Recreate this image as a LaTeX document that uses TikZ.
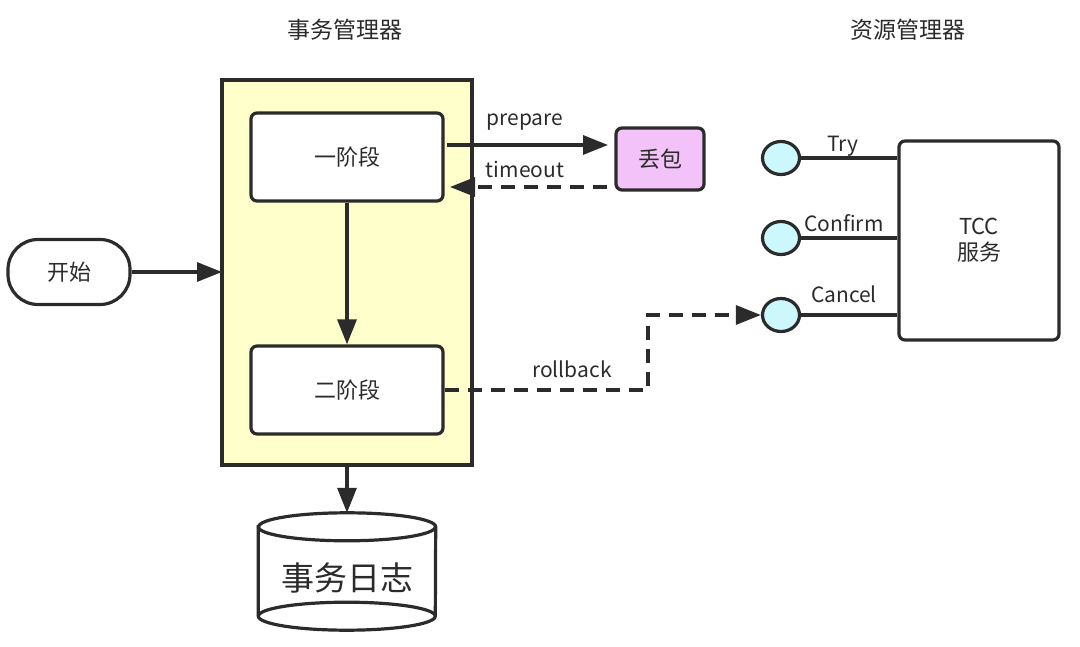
\documentclass[tikz,border=0pt]{standalone}
\usepackage{fontspec}
\setmainfont{Noto Sans CJK SC}
\usetikzlibrary{arrows.meta,shapes.geometric}
\definecolor{ln}{HTML}{2B2B2B}
\definecolor{yel}{HTML}{FFFFCC}
\definecolor{pink}{HTML}{F2C2F8}
\definecolor{cyanc}{HTML}{CCF8FC}
\tikzset{
  every node/.style={font=\fontsize{21}{24}\selectfont, text=ln},
  boxst/.style={draw=ln, line width=3.2pt, rounded corners=6pt, fill=white},
  conn/.style={draw=ln, line width=3.2pt, -{Triangle[length=25pt,width=19pt]}},
  dconn/.style={conn, dash pattern=on 14pt off 9pt},
  port/.style={draw=ln, line width=3.2pt, fill=cyanc, ellipse, minimum width=37pt, minimum height=33pt, inner sep=0pt},
  plain/.style={draw=ln, line width=3.2pt},
}
\begin{document}
\begin{tikzpicture}[x=1pt,y=-1pt]
\useasboundingbox (0,0) rectangle (1080,647);
% titles
\node[font=\fontsize{23}{26}\selectfont] (t1) at (345,30) {事务管理器};
\node[font=\fontsize{23}{26}\selectfont] (t2) at (908,30) {资源管理器};
% yellow container
\draw[draw=ln, line width=3.2pt, fill=yel] (222,80) rectangle (472,465);
\coordinate (ybot) at (347,465);
\coordinate (yleft) at (222,272);
% phase boxes
\node[boxst, minimum width=192pt, minimum height=88pt, font=\fontsize{22}{24}\selectfont] (p1) at (347,157) {一阶段};
\node[boxst, minimum width=192pt, minimum height=88pt, font=\fontsize{22}{24}\selectfont] (p2) at (347,390) {二阶段};
\draw[conn] (p1.south) -- (p2.north);
% start
\node[draw=ln, line width=3.2pt, rounded corners=30pt, minimum width=122pt, minimum height=65pt, fill=white, font=\fontsize{22}{24}\selectfont] (start) at (69,272) {开始};
\draw[conn] (start.east) -- (yleft);
% log cylinder
\node[minimum width=177pt, minimum height=117pt, inner sep=0pt] (log) at (347,571.5) {};
\draw[draw=ln, line width=3.2pt, fill=white]
  ([yshift=-14pt]log.north west) -- ([yshift=14pt]log.south west)
  arc (180:360:88.5pt and 14pt) -- ([yshift=-14pt]log.north east)
  arc (0:180:88.5pt and 14pt) -- cycle;
\draw[draw=ln, line width=3.2pt] ([yshift=-14pt]log.north west) arc (180:360:88.5pt and 14pt);
\draw[draw=ln, line width=3.2pt] ([yshift=14pt]log.south west) arc (180:0:88.5pt and 14pt);
\node[font=\fontsize{33}{36}\selectfont] (logtext) at (347,578) {事务日志};
\draw[conn] (ybot) -- (log.north);
% drop packet
\node[boxst, fill=pink, minimum width=88pt, minimum height=62pt, font=\fontsize{22}{24}\selectfont] (drop) at (660,159) {丢包};
\coordinate (pa) at (447,145);
\coordinate (pb) at (608,145);
\draw[conn] (pa) -- (pb);
\node (prep) at (525,122) {prepare};
\coordinate (ta) at (607,187);
\coordinate (tb) at (450,187);
\draw[dconn] (ta) -- (tb);
\node (tout) at (525,170) {timeout};
% TCC service
\node[boxst, minimum width=160pt, minimum height=199pt, align=center, font=\fontsize{22}{26}\selectfont] (tcc) at (979,240.5) {TCC\\服务};
\node[port] (c1) at (781,158) {};
\node[port] (c2) at (781,238) {};
\node[port] (c3) at (781,315) {};
\draw[plain] (c1.east) -- (c1.east -| tcc.west);
\draw[plain] (c2.east) -- (c2.east -| tcc.west);
\draw[plain] (c3.east) -- (c3.east -| tcc.west);
\node (try) at (843,146) {Try};
\node (conf) at (844,223) {Confirm};
\node (canc) at (844,294) {Cancel};
% rollback
\coordinate (rb1) at (648,390);
\coordinate (rb2) at (648,315);
\draw[dconn] (p2.east) -- (rb1) -- (rb2) -- (c3.west);
\node (rb) at (572,369) {rollback};
\end{tikzpicture}
\end{document}
